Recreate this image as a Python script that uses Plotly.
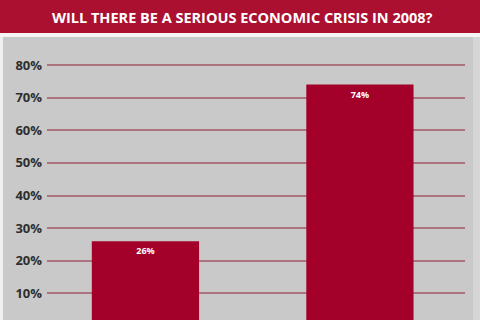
import plotly.graph_objects as go

title = "WILL THERE BE A SERIOUS ECONOMIC CRISIS IN 2008?"
answers = ["No", "Yes"]
shares = [26, 74]
tick_vals = [0, 10, 20, 30, 40, 50, 60, 70, 80]
tick_text = [f"{v}%" for v in tick_vals]

RED_BAR = "#a3002a"
RED_TITLE = "#ab1030"
GREY = "#c9c9c9"
YMIN, YMAX = 1.84, 88.6

fig = go.Figure()
fig.add_trace(go.Bar(
    x=answers, y=shares, width=0.5,
    marker=dict(color=RED_BAR, line=dict(width=0)),
    text=[f"{v}%" for v in shares],
    textposition="inside", insidetextanchor="end",
    textfont=dict(family="Open Sans", size=9, color="white", weight="bold"),
    textangle=0,
))

fig.update_layout(
    width=480, height=320,
    margin=dict(l=47, r=15, t=37, b=0),
    paper_bgcolor=GREY, plot_bgcolor=GREY,
    showlegend=False,
    xaxis=dict(type="category", range=[-0.459, 1.49], showticklabels=False,
               showgrid=False, zeroline=False, fixedrange=True),
    yaxis=dict(range=[YMIN, YMAX], tickvals=tick_vals, ticktext=tick_text,
               showgrid=True, gridcolor="#ad7480", gridwidth=2, zeroline=False,
               tickfont=dict(family="Open Sans", size=13, color="#2e2e2e", weight="bold"),
               ticks="", ticklabelstandoff=4),
    shapes=[
        dict(type="rect", xref="paper", yref="paper", xsizemode="pixel", ysizemode="pixel",
             xanchor=0, yanchor=1, x0=-47, x1=433, y0=4, y1=37,
             fillcolor=RED_TITLE, line=dict(width=0), layer="below"),
        dict(type="rect", xref="paper", yref="paper", xsizemode="pixel", ysizemode="pixel",
             xanchor=0, yanchor=1, x0=-47, x1=433, y0=0, y1=4,
             fillcolor="#f4f4f4", line=dict(width=0), layer="below"),
        dict(type="rect", xref="paper", yref="paper", xsizemode="pixel",
             xanchor=0, x0=-47, x1=-44, y0=0, y1=1,
             fillcolor="#f0f0f0", line=dict(width=0), layer="below"),
        dict(type="rect", xref="paper", yref="paper", xsizemode="pixel",
             xanchor=1, x0=8, x1=15, y0=0, y1=1,
             fillcolor="#d6d6d6", line=dict(width=0), layer="below"),
    ],
    annotations=[
        dict(text=title, xref="paper", yref="paper", x=0.4677, y=1, yshift=20,
             yanchor="middle", xanchor="center", showarrow=False,
             font=dict(family="Open Sans", size=14.5, color="white", weight="bold")),
        dict(text=tick_text[0], xref="paper", yref="paper", x=0, xshift=-4,
             y=(tick_vals[0] - YMIN) / (YMAX - YMIN), xanchor="right", yanchor="middle",
             showarrow=False,
             font=dict(family="Open Sans", size=13, color="#2e2e2e", weight="bold")),
    ],
)

fig.write_html("out.html")
